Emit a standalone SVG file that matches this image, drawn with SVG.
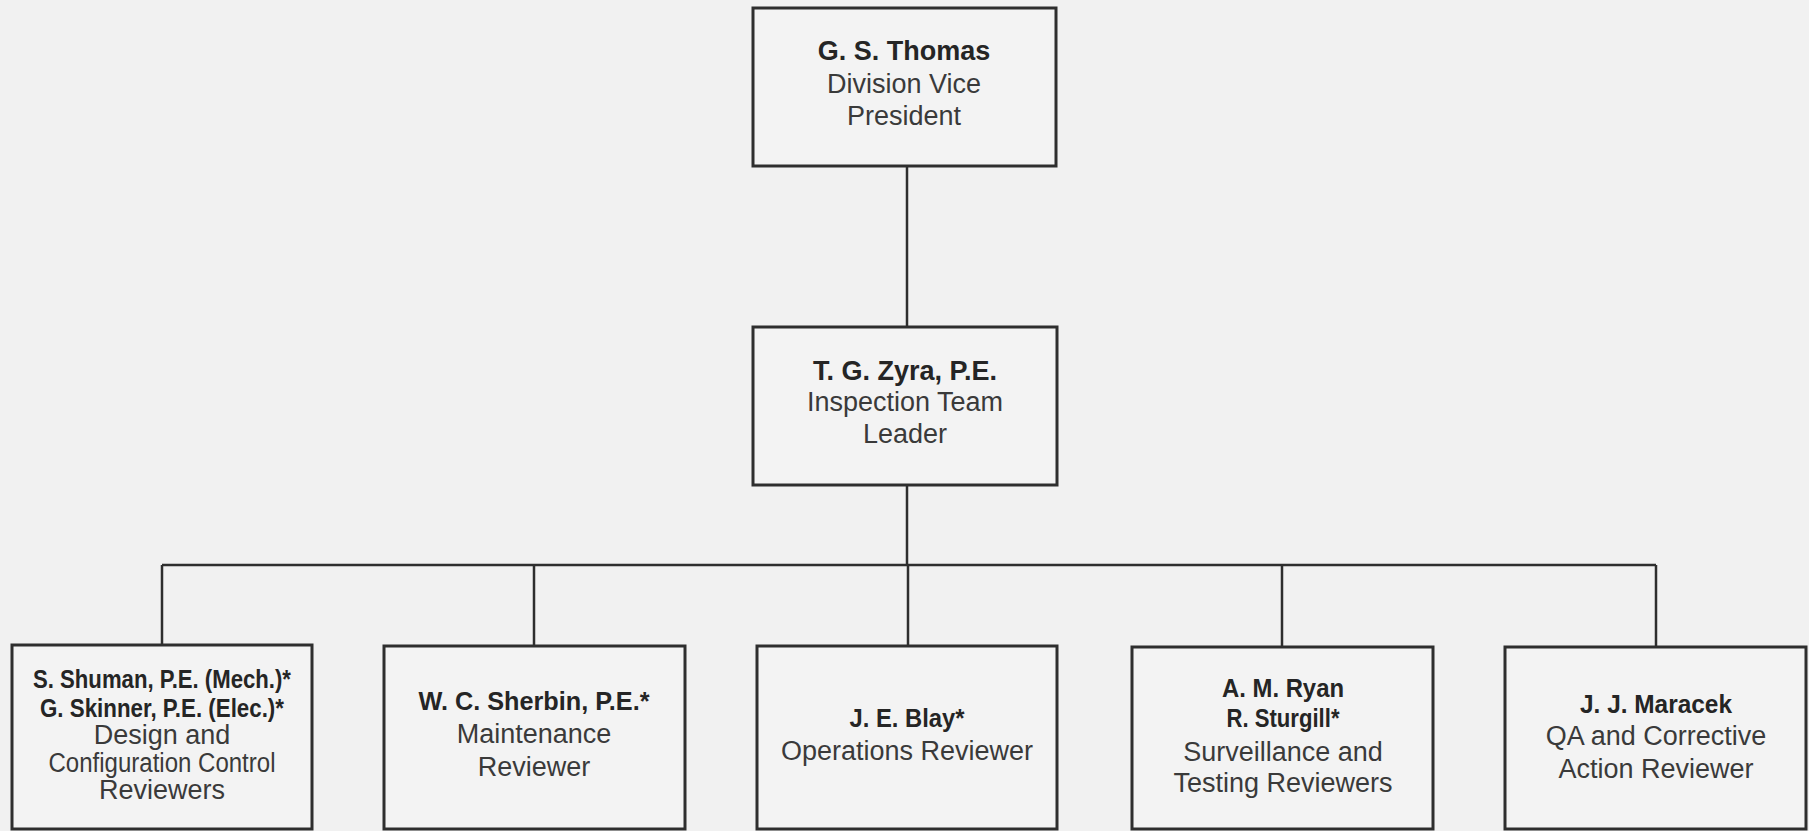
<svg xmlns="http://www.w3.org/2000/svg" width="1809" height="831" viewBox="0 0 1809 831">
<style>
.bg{fill:#f1f1f1}
.box{fill:#f3f3f3;stroke:#2e2e2e;stroke-width:3}
.ln{stroke:#2e2e2e;stroke-width:2.5;fill:none}
text{font-family:"Liberation Sans",Arial,sans-serif;text-anchor:middle;font-size:27px;fill:#3a3a3a}
.b{font-weight:bold;fill:#252525}
.c{font-weight:bold;fill:#252525;font-size:25px}
</style>
<rect class="bg" x="0" y="0" width="1809" height="831"/>
<g id="connectors">
<path class="ln" d="M907 166V327"/>
<path class="ln" d="M907 485V565"/>
<path class="ln" d="M162 565H1656"/>
<path class="ln" d="M162 565V646"/>
<path class="ln" d="M534 565V646"/>
<path class="ln" d="M908 565V646"/>
<path class="ln" d="M1282 565V647"/>
<path class="ln" d="M1656 565V647"/>
</g>
<g id="thomas">
<rect class="box" x="753" y="8" width="303" height="158"/>
<text class="b" x="904" y="60">G. S. Thomas</text>
<text x="904" y="93">Division Vice</text>
<text x="904" y="125">President</text>
</g>
<g id="zyra">
<rect class="box" x="753" y="327" width="304" height="158"/>
<text class="b" x="905" y="380">T. G. Zyra, P.E.</text>
<text x="905" y="411">Inspection Team</text>
<text x="905" y="443">Leader</text>
</g>
<g id="shuman">
<rect class="box" x="12" y="645" width="300" height="184"/>
<text class="c" x="162" y="688" textLength="258" lengthAdjust="spacingAndGlyphs">S. Shuman, P.E. (Mech.)*</text>
<text class="c" x="162" y="717" textLength="244" lengthAdjust="spacingAndGlyphs">G. Skinner, P.E. (Elec.)*</text>
<text x="162" y="744" font-size="24.5">Design and</text>
<text x="162" y="772" textLength="227" lengthAdjust="spacingAndGlyphs" font-size="24.5">Configuration Control</text>
<text x="162" y="799" font-size="24.5">Reviewers</text>
</g>
<g id="sherbin">
<rect class="box" x="384" y="646" width="301" height="183"/>
<text class="c" x="534" y="710" textLength="231" lengthAdjust="spacingAndGlyphs">W. C. Sherbin, P.E.*</text>
<text x="534" y="743">Maintenance</text>
<text x="534" y="776">Reviewer</text>
</g>
<g id="blay">
<rect class="box" x="757" y="646" width="300" height="183"/>
<text class="c" x="907" y="727" textLength="115" lengthAdjust="spacingAndGlyphs">J. E. Blay*</text>
<text x="907" y="760">Operations Reviewer</text>
</g>
<g id="ryan">
<rect class="box" x="1132" y="647" width="301" height="182"/>
<text class="c" x="1283" y="697" textLength="122" lengthAdjust="spacingAndGlyphs">A. M. Ryan</text>
<text class="c" x="1283" y="727" textLength="113" lengthAdjust="spacingAndGlyphs">R. Sturgill*</text>
<text x="1283" y="761">Surveillance and</text>
<text x="1283" y="792">Testing Reviewers</text>
</g>
<g id="maracek">
<rect class="box" x="1505" y="647" width="301" height="182"/>
<text class="c" x="1656" y="713" textLength="152" lengthAdjust="spacingAndGlyphs">J. J. Maracek</text>
<text x="1656" y="745">QA and Corrective</text>
<text x="1656" y="778">Action Reviewer</text>
</g>
</svg>
